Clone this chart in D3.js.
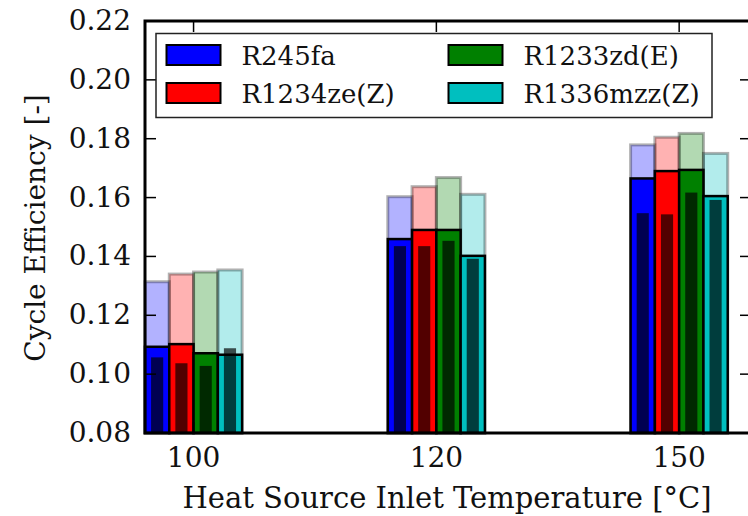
<!DOCTYPE html>
<html>
<head>
<meta charset="utf-8">
<script src="https://cdn.jsdelivr.net/npm/d3@7"></script>
<style>
  html, body { margin: 0; padding: 0; background: #fff; }
  svg { display: block; }
</style>
</head>
<body>
<svg id="chart" width="748" height="516"></svg>
<script>
// Heat source inlet temperatures (°C) — one bar group each
const temperatures = ["100", "120", "150"];
// Working fluids and their bar colours
const fluids = ["R245fa", "R1234ze(Z)", "R1233zd(E)", "R1336mzz(Z)"];
const fluidColors = ["#0000ff", "#ff0000", "#008000", "#00bfbf"];

// Upper (light) efficiency per fluid, per temperature
const effUpper = [
  [0.1314, 0.1603, 0.1779],
  [0.1340, 0.1637, 0.1805],
  [0.1347, 0.1668, 0.1818],
  [0.1354, 0.1611, 0.1750]
];
// Main efficiency per fluid, per temperature
const effMain = [
  [0.1093, 0.1459, 0.1665],
  [0.1102, 0.1490, 0.1690],
  [0.1071, 0.1490, 0.1694],
  [0.1066, 0.1402, 0.1605]
];
// Lower (dark inner bar) efficiency per fluid, per temperature
const effLower = [
  [0.1057, 0.1435, 0.1547],
  [0.1037, 0.1435, 0.1543],
  [0.1028, 0.1453, 0.1617],
  [0.1088, 0.1392, 0.1592]
];
const yTicks = [0.08, 0.10, 0.12, 0.14, 0.16, 0.18, 0.20, 0.22];

const FONT = "DejaVu Serif";
const ink = "#111";

const svg = d3.select("#chart");
const plotL = 145, plotR = 752, plotT = 21, plotB = 433;

const x = d3.scaleLinear().domain([-0.2, 2.3]).range([plotL, plotR]);
const y = d3.scaleLinear().domain([0.08, 0.22]).range([plotB, plotT]);
const barW = 0.1;

const rows = [];
fluids.forEach((f, j) => temperatures.forEach((t, i) => {
  rows.push({ j, i, up: effUpper[j][i], mid: effMain[j][i], low: effLower[j][i] });
}));

const plot = svg.append("g");
const bx = d => x(d.i - 0.2 + d.j * barW);
const bw = x(barW) - x(0);

// light (upper) bars
plot.selectAll("rect.up").data(rows).join("rect")
  .attr("class", "up")
  .attr("x", bx).attr("width", bw)
  .attr("y", d => y(d.up)).attr("height", d => y(0.08) - y(d.up))
  .attr("fill", d => fluidColors[d.j]).attr("fill-opacity", 0.3)
  .attr("stroke", "#000").attr("stroke-opacity", 0.3).attr("stroke-width", 3);

// main bars
plot.selectAll("rect.mid").data(rows).join("rect")
  .attr("class", "mid")
  .attr("x", bx).attr("width", bw)
  .attr("y", d => y(d.mid)).attr("height", d => y(0.08) - y(d.mid))
  .attr("fill", d => fluidColors[d.j])
  .attr("stroke", "#000").attr("stroke-width", 2.5);

// dark inner bars
plot.selectAll("rect.low").data(rows).join("rect")
  .attr("class", "low")
  .attr("x", d => x(d.i - 0.2 + d.j * barW + barW / 4)).attr("width", bw / 2)
  .attr("y", d => y(d.low)).attr("height", d => y(0.08) - y(d.low))
  .attr("fill", "#000").attr("fill-opacity", 0.68);

// inward ticks
const tickLen = 11;
const axes = svg.append("g").attr("stroke", "#000").attr("stroke-width", 1.5);
yTicks.slice(1, -1).forEach(v => {
  axes.append("line").attr("x1", plotL).attr("x2", plotL + tickLen).attr("y1", y(v)).attr("y2", y(v));
  axes.append("line").attr("x1", plotR).attr("x2", plotR - tickLen - 1).attr("y1", y(v)).attr("y2", y(v));
});
temperatures.forEach((t, i) => {
  axes.append("line").attr("x1", x(i)).attr("x2", x(i)).attr("y1", plotT).attr("y2", plotT + tickLen);
  axes.append("line").attr("x1", x(i)).attr("x2", x(i)).attr("y1", plotB).attr("y2", plotB - tickLen);
});

// frame
svg.append("rect").attr("x", plotL).attr("y", plotT)
  .attr("width", plotR - plotL).attr("height", plotB - plotT)
  .attr("fill", "none").attr("stroke", "#000").attr("stroke-width", 3);

function label(sel, size) {
  return sel.style("font-family", FONT).attr("font-size", size).attr("fill", ink);
}

// y tick labels
svg.append("g").selectAll("text").data(yTicks).join("text")
  .attr("x", 131).attr("y", d => y(d) + 9)
  .attr("text-anchor", "end")
  .call(label, 28)
  .text(d => d3.format(".2f")(d));

// x tick labels
svg.append("g").selectAll("text").data(temperatures).join("text")
  .attr("x", (d, i) => x(i)).attr("y", 466.5)
  .attr("text-anchor", "middle")
  .call(label, 28)
  .text(d => d);

// axis titles
svg.append("text").attr("x", 447).attr("y", 508)
  .attr("text-anchor", "middle")
  .call(label, 29)
  .text("Heat Source Inlet Temperature [°C]");
svg.append("text")
  .attr("transform", "translate(45,228) rotate(-90)")
  .attr("text-anchor", "middle")
  .call(label, 28)
  .text("Cycle Efficiency [-]");

// legend
const lg = svg.append("g");
lg.append("rect").attr("x", 156).attr("y", 33.5).attr("width", 556).attr("height", 84)
  .attr("fill", "#fff").attr("stroke", "#222").attr("stroke-width", 1.5);
const colX = [166.5, 448.5], rowY = [45, 83];
fluids.forEach((f, j) => {
  const c = Math.floor(j / 2), r = j % 2;
  lg.append("rect").attr("x", colX[c]).attr("y", rowY[r]).attr("width", 54).attr("height", 20)
    .attr("fill", fluidColors[j]).attr("stroke", "#000").attr("stroke-width", 2);
  lg.append("text").attr("x", colX[c] + 75).attr("y", rowY[r] + 20)
    .call(label, 26).text(f);
});
</script>
</body>
</html>
